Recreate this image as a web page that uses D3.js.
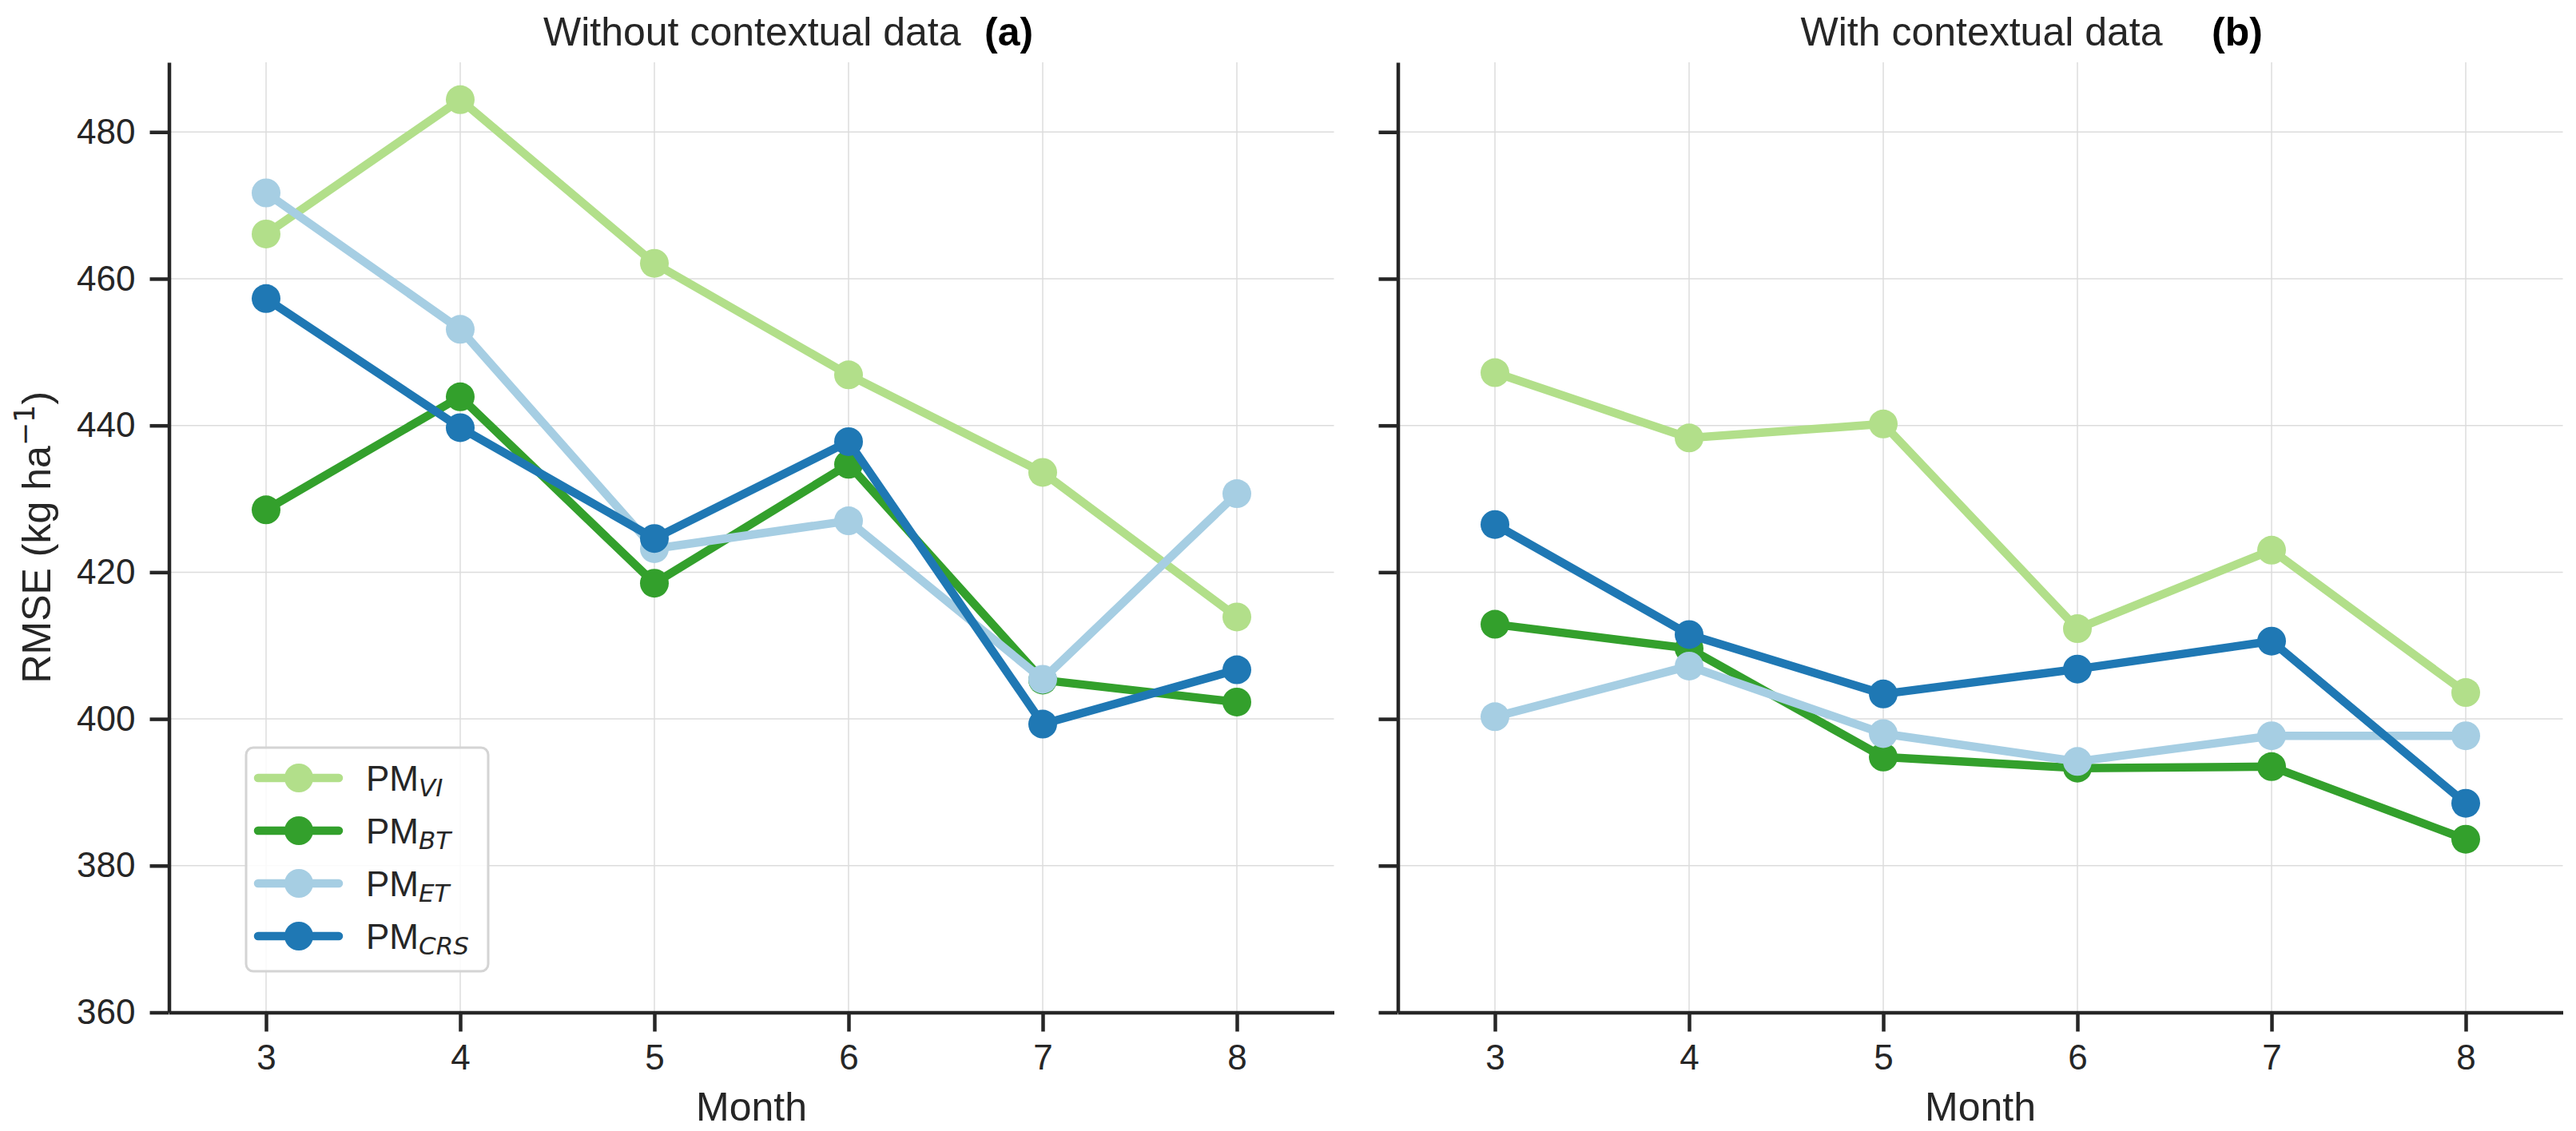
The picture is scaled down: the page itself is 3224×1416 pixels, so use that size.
<!DOCTYPE html>
<html>
<head>
<meta charset="utf-8">
<script src="https://cdn.jsdelivr.net/npm/d3@7"></script>
<style>
  body { margin: 0; background: #fff; }
  svg { display: block; font-family: "Liberation Sans", Arial, sans-serif; }
  .tick text { fill: #262626; font-size: 44px; }
</style>
</head>
<body>
<svg id="chart" width="3224" height="1416"></svg>
<script>
// months on the x axis
const months = [3, 4, 5, 6, 7, 8];
const yTicks = [360, 380, 400, 420, 440, 460, 480];

// series names (subscripts) and colours
const seriesNames = ['VI', 'BT', 'ET', 'CRS'];
const seriesColors = ['#b2df8a', '#33a02c', '#a6cee3', '#1f78b4'];

// panel (a): without contextual data
const noCtxVI  = [466.1, 484.4, 462.1, 446.9, 433.6, 413.9];
const noCtxBT  = [428.5, 443.9, 418.5, 434.7, 405.3, 402.3];
const noCtxET  = [471.7, 453.1, 423.2, 427.0, 405.4, 430.7];
const noCtxCRS = [457.3, 439.7, 424.6, 437.8, 399.3, 406.7];

// panel (b): with contextual data
const ctxVI  = [447.2, 438.3, 440.2, 412.3, 423.0, 403.6];
const ctxBT  = [412.9, 409.6, 394.8, 393.3, 393.5, 383.6];
const ctxET  = [400.3, 407.2, 398.0, 394.2, 397.7, 397.7];
const ctxCRS = [426.5, 411.5, 403.4, 406.8, 410.6, 388.5];

const panels = [
  { title: 'Without contextual data', tag: '(a)', left: 211.5, right: 1669.5,
    titleOff: -260.5, tagOff: 291.5, labels: true, legend: true,
    series: [noCtxVI, noCtxBT, noCtxET, noCtxCRS] },
  { title: 'With contextual data', tag: '(b)', left: 1749.5, right: 3207.5,
    titleOff: -225, tagOff: 289.5, labels: false, legend: false,
    series: [ctxVI, ctxBT, ctxET, ctxCRS] }
];

const plotTop = 78, plotBottom = 1267.5;
const ink = '#262626';
const LINE_W = 10.5, MARKER_R = 18;

var svg = d3.select('#chart');
svg.append('rect').attr('width', 3224).attr('height', 1416).attr('fill', '#fff');

var y = d3.scaleLinear().domain([360, 489.5]).range([plotBottom, plotTop]);

panels.forEach(function (p) {
  var x = d3.scaleLinear().domain([2.5, 8.5]).range([p.left, p.right]);
  var g = svg.append('g');
  var cx = (p.left + p.right) / 2;

  // grid
  g.append('g').selectAll('line').data(months).enter().append('line')
    .attr('x1', d => x(d)).attr('x2', d => x(d))
    .attr('y1', plotTop).attr('y2', plotBottom)
    .attr('stroke', '#dcdcdc').attr('stroke-width', 1.5);
  g.append('g').selectAll('line').data(yTicks).enter().append('line')
    .attr('x1', p.left).attr('x2', p.right)
    .attr('y1', d => y(d)).attr('y2', d => y(d))
    .attr('stroke', '#dcdcdc').attr('stroke-width', 1.5);

  // axes
  var xAxis = g.append('g')
    .attr('transform', 'translate(0,' + plotBottom + ')')
    .call(d3.axisBottom(x).tickValues(months).tickSize(24).tickSizeOuter(0).tickPadding(16)
      .tickFormat(d3.format('d')));
  var yAxis = g.append('g')
    .attr('transform', 'translate(' + p.left + ',0)')
    .call(d3.axisLeft(y).tickValues(yTicks).tickSize(24).tickSizeOuter(0).tickPadding(18)
      .tickFormat(p.labels ? d3.format('d') : ''));
  [xAxis, yAxis].forEach(function (a) {
    a.select('.domain').attr('stroke', ink).attr('stroke-width', 4.5);
    a.selectAll('.tick line').attr('stroke', ink).attr('stroke-width', 4.5);
  });

  // lines + markers
  var line = d3.line().x((d, i) => x(months[i])).y(d => y(d));
  p.series.forEach(function (vals, k) {
    g.append('path').datum(vals)
      .attr('d', line)
      .attr('fill', 'none')
      .attr('stroke', seriesColors[k])
      .attr('stroke-width', LINE_W)
      .attr('stroke-linejoin', 'round')
      .attr('stroke-linecap', 'round');
    g.append('g').selectAll('circle').data(vals).enter().append('circle')
      .attr('cx', (d, i) => x(months[i]))
      .attr('cy', d => y(d))
      .attr('r', MARKER_R)
      .attr('fill', seriesColors[k]);
  });

  // titles
  g.append('text').attr('x', cx + p.titleOff).attr('y', 57)
    .attr('font-size', 50).attr('fill', ink).text(p.title);
  g.append('text').attr('x', cx + p.tagOff).attr('y', 57)
    .attr('font-size', 50).attr('font-weight', 'bold').attr('fill', '#000').text(p.tag);

  // x label
  g.append('text').attr('x', cx).attr('y', 1403)
    .attr('text-anchor', 'middle').attr('font-size', 50).attr('fill', ink).text('Month');

  if (p.legend) {
    var lg = g.append('g');
    lg.append('rect')
      .attr('x', 308).attr('y', 936).attr('width', 303).attr('height', 280)
      .attr('rx', 9).attr('fill', 'rgba(255,255,255,0.85)')
      .attr('stroke', '#d4d4d4').attr('stroke-width', 3);
    var item = lg.selectAll('g.item').data(seriesNames).enter().append('g')
      .attr('class', 'item')
      .attr('transform', (d, i) => 'translate(0,' + (974 + i * 66) + ')');
    item.append('line')
      .attr('x1', 323).attr('x2', 424).attr('y1', 0).attr('y2', 0)
      .attr('stroke', (d, i) => seriesColors[i])
      .attr('stroke-width', LINE_W).attr('stroke-linecap', 'round');
    item.append('circle')
      .attr('cx', 374).attr('cy', 0).attr('r', MARKER_R)
      .attr('fill', (d, i) => seriesColors[i]);
    var t = item.append('text').attr('x', 458).attr('y', 16)
      .attr('font-size', 44).attr('fill', ink);
    t.append('tspan').text('PM');
    t.append('tspan').attr('dy', 7)
      .attr('font-family', '"DejaVu Sans", sans-serif')
      .attr('font-style', 'italic').attr('font-size', 31)
      .text(d => d);
  }
});

// y label
var yl = svg.append('text')
  .attr('transform', 'translate(63,' + (plotTop + plotBottom) / 2 + ') rotate(-90)')
  .attr('text-anchor', 'middle').attr('font-size', 50).attr('fill', ink);
yl.append('tspan').text('RMSE (kg ha');
yl.append('tspan').attr('dy', -20).attr('font-size', 35)
  .attr('font-family', '"DejaVu Sans", sans-serif').text('\u22121');
yl.append('tspan').attr('dy', 20).text(')');
</script>
</body>
</html>
